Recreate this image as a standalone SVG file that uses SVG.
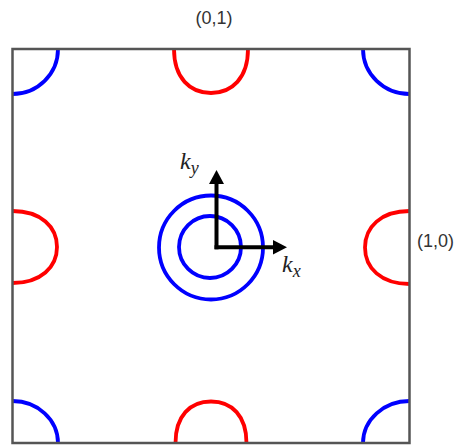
<svg xmlns="http://www.w3.org/2000/svg" width="464" height="446" viewBox="0 0 464 446">
<style>
.blue{fill:none;stroke:#0000ff;stroke-width:3.8}
.red{fill:none;stroke:#ff0000;stroke-width:3.8}
.box{fill:none;stroke:#555;stroke-width:2.5}
.lbl{font-family:"Liberation Sans",Arial,sans-serif;font-size:18px;fill:#333}
.k{font-family:"Liberation Serif","Times New Roman",serif;font-style:italic;fill:#222}
.ax{stroke:#000;stroke-width:4;fill:none}
</style>
<rect width="464" height="446" fill="#fff"/>
<g id="corner-tl"><path class="blue" d="M58,49 A45.5,45 0 0 1 12.5,94"/></g>
<g id="corner-tr"><path class="blue" d="M363,49 A46.5,45 0 0 0 409.5,94"/></g>
<g id="corner-bl"><path class="blue" d="M12.5,401 A45.5,42 0 0 1 58,443"/></g>
<g id="corner-br"><path class="blue" d="M363,443 A46.5,42 0 0 1 409.5,401"/></g>
<g id="pocket-top"><path class="red" d="M174,49 C174,78 190,93 211,93 C232,93 248,78 248,49"/></g>
<g id="pocket-bottom"><path class="red" d="M175.5,443 C175.5,416 190,401.5 211,401.5 C232,401.5 246.5,416 246.5,443"/></g>
<g id="pocket-left"><path class="red" d="M12.5,211 C41,211 57,227 57,247 C57,267 41,283 12.5,283"/></g>
<g id="pocket-right"><path class="red" d="M409.5,211 C381,211 365,227 365,247.5 C365,268 381,284 409.5,284"/></g>
<g id="center-circles">
<circle class="blue" cx="211" cy="247.5" r="52"/>
<circle class="blue" cx="210" cy="247" r="31"/>
</g>
<g id="box"><rect class="box" x="12.5" y="49" width="397" height="394"/></g>
<g id="axes">
<line class="ax" x1="216.5" y1="249.3" x2="216.5" y2="182"/>
<polygon points="216.5,170 209,184 224,184" fill="#000"/>
<line class="ax" x1="214.5" y1="247.3" x2="275" y2="247.3"/>
<polygon points="287,247.3 273,240 273,254.6" fill="#000"/>
</g>
<g id="labels">
<text class="lbl" x="214" y="24" text-anchor="middle">(0,1)</text>
<text class="lbl" x="417" y="247">(1,0)</text>
<text class="k" x="180" y="169" font-size="24">k<tspan font-size="18" dy="5">y</tspan></text>
<text class="k" x="282" y="272" font-size="24">k<tspan font-size="18" dy="5">x</tspan></text>
</g>
</svg>
